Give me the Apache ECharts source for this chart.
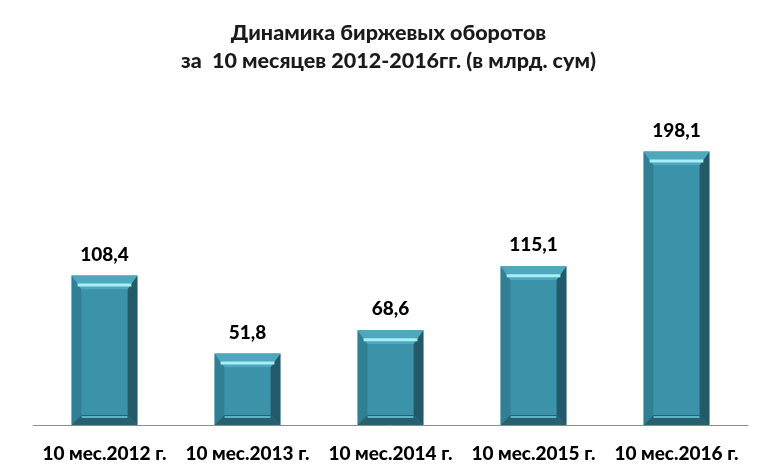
<!DOCTYPE html>
<html><head><meta charset="utf-8">
<script src="https://cdn.jsdelivr.net/npm/echarts@6/dist/echarts.min.js"></script>
<style>html,body{margin:0;padding:0;background:#fff}#c{width:777px;height:473px}</style>
</head><body><div id="c"></div>
<script>
const categories = ['10 мес.2012 г.', '10 мес.2013 г.', '10 мес.2014 г.', '10 мес.2015 г.', '10 мес.2016 г.'];
const values = [108.4, 51.8, 68.6, 115.1, 198.1];
const titleText = 'Динамика биржевых оборотов\nза  10 месяцев 2012-2016гг. (в млрд. сум)';

const FONT = 'Lato';
const chart = echarts.init(document.getElementById('c'));

function renderBar(params, api) {
  const idx = api.value(0), v = api.value(1);
  const top = api.coord([idx, v]);
  const base = api.coord([idx, 0]);
  const band = api.size([1, 0])[0];
  const w = band * 0.46;
  const x0 = top[0] - w / 2, x1 = top[0] + w / 2;
  const y0 = top[1], y1 = base[1];
  const b = 10;
  const xi0 = x0 + b, xi1 = x1 - b, yi0 = y0 + 14, yi1 = y1 - 10;
  const label = String(values[params.dataIndex].toFixed(1)).replace('.', ',');
  return {
    type: 'group',
    children: [
      { type: 'rect', shape: { x: x0, y: y0, width: w, height: y1 - y0 }, style: { fill: '#3a8fa6' } },
      { type: 'polygon', shape: { points: [[x0, y0], [xi0, yi0], [xi0, yi1], [x0, y1]] }, style: { fill: '#307f94' } },
      { type: 'polygon', shape: { points: [[x1, y0], [xi1, yi0], [xi1, yi1], [x1, y1]] }, style: { fill: '#235a6a' } },
      { type: 'polygon', shape: { points: [[x0, y0], [x1, y0], [xi1, yi0], [xi0, yi0]] }, style: { fill: '#4ea7bd' } },
      { type: 'rect', shape: { x: xi0 - 4, y: yi0 - 6, width: (xi1 - xi0) + 8, height: 3 }, style: { fill: '#a8eef7' } },
      { type: 'polygon', shape: { points: [[x0, y1], [x1, y1], [xi1, yi1], [xi0, yi1]] }, style: { fill: '#28606f' } },
      { type: 'rect', shape: { x: xi0, y: yi1 + 1, width: xi1 - xi0, height: 2 }, style: { fill: '#5fb4c7' } },
      { type: 'rect', shape: { x: xi0, y: yi0, width: xi1 - xi0, height: yi1 - yi0 }, style: { fill: '#3b93aa' } },
      { type: 'text', x: top[0], y: y0 - 21, style: { text: label, align: 'center', verticalAlign: 'middle', font: '900 19px ' + FONT, fill: '#000' } }
    ]
  };
}

chart.setOption({
  animation: false,
  title: {
    text: titleText, left: 'center', top: 14,
    textStyle: { fontFamily: FONT, fontWeight: 900, fontSize: 21.5, lineHeight: 28, color: '#1a1a1a' }
  },
  grid: { left: 33, right: 29, top: 80, bottom: 48 },
  xAxis: {
    type: 'category', data: categories,
    axisLine: { lineStyle: { color: '#8c8c8c', width: 1 } },
    axisTick: { show: false },
    axisLabel: { fontFamily: FONT, fontWeight: 900, fontSize: 19, color: '#000', margin: 19, interval: 0 }
  },
  yAxis: { type: 'value', min: 0, max: 250, show: false, splitLine: { show: false } },
  series: [{
    type: 'custom',
    renderItem: renderBar,
    data: values.map((v, i) => [i, v]),
    encode: { x: 0, y: 1 }
  }]
});
</script></body></html>
